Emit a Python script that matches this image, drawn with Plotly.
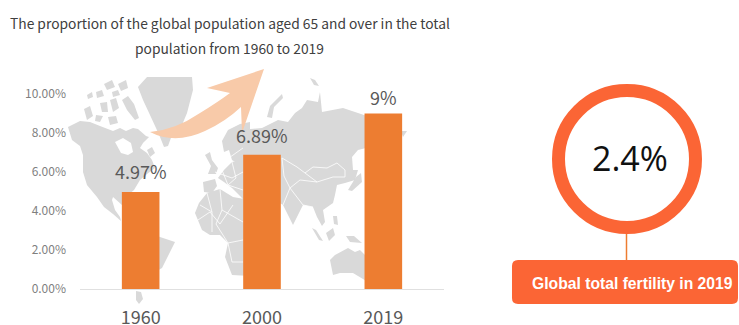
import plotly.graph_objects as go

W, H = 739, 325
years = ["1960", "2000", "2019"]
shares = [4.97, 6.89, 9.0]
share_labels = ["4.97%", "6.89%", "9%"]
y_ticks = [0, 2, 4, 6, 8, 10]
y_tick_labels = ["0.00%", "2.00%", "4.00%", "6.00%", "8.00%", "10.00%"]
title_lines = ["The proportion of the global population aged 65 and over in the total",
               "population from 1960 to 2019"]
fertility_value = "2.4%"
fertility_label = "Global total fertility in 2019"

# decorative backdrop outlines, in image pixels
LAND = [
 [(138,87),(147,77),(192,77),(193,90),(187,113),(182,125),(172,135),(168,146),(164,147),(160,137),(156,128),(150,115),(143,100)],
 [(68,127),(80,121),(90,122),(100,126),(113,131),(120,128),(126,131),(133,128),(138,129),(146,136),(149,137),(143,143),(140,148),(147,153),(152,160),(155,168),(147,174),(140,180),(134,190),(123,199),(122,205),(113,197),(112,200),(115,210),(120,217),(121,221),(113,214),(104,207),(97,197),(87,185),(83,172),(83,155),(80,146),(72,140)],
 [(122,100),(128,96),(134,104),(139,118),(135,120),(127,110)],
 [(110,100),(116,98),(119,108),(113,112)],
 [(100,103),(107,102),(108,112),(102,112)],
 [(84,109),(90,106),(93,116),(87,120)],
 [(96,115),(103,116),(100,122),(95,121)],
 [(108,117),(116,116),(118,123),(110,125)],
 [(118,84),(126,80),(128,88),(121,91)],
 [(104,84),(112,80),(115,87),(107,90)],
 [(96,92),(102,90),(104,96),(97,98)],
 [(112,92),(118,90),(120,95),(113,97)],
 [(87,95),(92,92),(93,97),(88,99)],
 [(147,150),(152,147),(155,153),(150,157)],
 [(222,141),(228,130),(240,124),(250,122),(250,160),(240,165),(232,160),(229,150),(224,152)],
 [(205,155),(210,152),(212,160),(218,168),(216,174),(208,174),(211,166)],
 [(218,178),(224,170),(232,162),(250,158),(250,205),(240,196),(232,188),(224,182)],
 [(203,182),(215,179),(217,186),(212,193),(204,192)],
 [(240,130),(262,128),(278,120),(288,122),(295,113),(302,108),(307,100),(318,102),(320,92),(322,112),(343,108),(355,112),(370,117),(370,147),(358,150),(352,157),(353,170),(358,170),(355,180),(345,183),(337,185),(335,195),(333,203),(323,210),(325,222),(322,226),(317,217),(313,207),(303,205),(293,225),(283,205),(275,200),(250,210),(240,195)],
 [(195,213),(199,203),(207,193),(220,189),(233,197),(250,200),(250,276),(232,275),(225,257),(228,243),(220,235),(210,235),(202,230)],
 [(155,235),(160,237),(175,242),(170,252),(162,268),(155,272)],
 [(136,291),(141,292),(143,299),(139,304),(136,300)],
 [(330,260),(335,255),(348,248),(355,252),(360,250),(368,258),(368,282),(353,273),(340,273),(333,275)],
 [(312,228),(316,230),(323,241),(319,240)],
 [(326,233),(333,228),(335,235),(329,241)],
 [(346,236),(354,236),(362,243),(350,242)],
 [(333,216),(337,216),(338,225),(334,224)],
 [(356,177),(361,173),(362,182),(352,191),(348,190)],
 [(267,117),(270,106),(282,94),(283,98),(274,107),(272,118)],
 [(310,78),(315,80),(319,86),(314,85)],
 [(401,131),(407,131),(403,137)],
]
ROADS = [
 [(282,158),(297,167),(305,173),(313,167),(327,168),(337,163),(345,170),(345,177),(333,177),(317,182),(305,173)],
 [(282,158),(284,176),(290,188),(303,205)],
 [(290,188),(300,180),(317,182)],
 [(195,222),(210,212),(220,224),(233,205)],
 [(207,193),(212,212),(212,232)],
 [(220,189),(222,210),(243,222)],
 [(222,210),(216,224),(228,243),(243,240)],
 [(228,243),(232,262),(243,262)],
 [(215,172),(232,178),(243,172)],
 [(226,160),(243,148)],
 [(222,170),(228,185),(243,190)],
 [(232,162),(236,178),(228,185)],
 [(303,205),(313,207)],
 [(283,205),(290,188)],
 [(200,205),(212,212)],
]

L, R, T, B = 80, 444, 94, 289

def px(x): return (x - L) / (R - L)
def py(y): return (B - y) / (B - T)

def poly(points):
    return "M" + " L".join(f"{px(x):.4f},{py(y):.4f}" for x, y in points) + " Z"

def line(points):
    return "M" + " L".join(f"{px(x):.4f},{py(y):.4f}" for x, y in points)

shapes = []
for p in LAND:
    shapes.append(dict(type="path", path=poly(p), xref="paper", yref="paper", layer="below",
                       fillcolor="#d9d9d9", line=dict(width=0)))
shapes.append(dict(type="path", path=poly([(115,142),(123,138),(131,143),(133,152),(128,155),(121,153)]),
                   xref="paper", yref="paper", layer="below", fillcolor="white", line=dict(width=0)))
for r in ROADS:
    shapes.append(dict(type="path", path=line(r), xref="paper", yref="paper", layer="below",
                       line=dict(color="white", width=0.8)))

P = lambda x, y: f"{px(x):.4f},{py(y):.4f}"
arrow = ("M" + P(150, 132) + " Q" + P(175, 130) + " " + P(200, 113) + " Q" + P(218, 102) + " " + P(230, 93)
         + " L" + P(207, 88) + " L" + P(264, 69) + " L" + P(242, 133) + " L" + P(241, 107)
         + " Q" + P(225, 122) + " " + P(205, 131) + " Q" + P(175, 145) + " " + P(150, 132) + " Z")
shapes.append(dict(type="path", path=arrow, xref="paper", yref="paper", fillcolor="#f8caa9", line=dict(width=0), layer="below"))

RING = "#fb6535"
shapes.append(dict(type="line", xref="paper", yref="paper", x0=px(626.5), x1=px(626.5), y0=py(232), y1=py(262),
                   line=dict(color="#ed7d31", width=1.5)))
shapes.append(dict(type="circle", xref="paper", yref="paper", x0=px(558.5), x1=px(695.5), y0=py(227.5), y1=py(90.5),
                   line=dict(color=RING, width=13), fillcolor="white"))
r = 6
rect = ("M" + P(512 + r, 260) + " L" + P(738 - r, 260) + " Q" + P(738, 260) + " " + P(738, 260 + r)
        + " L" + P(738, 304 - r) + " Q" + P(738, 304) + " " + P(738 - r, 304) + " L" + P(512 + r, 304)
        + " Q" + P(512, 304) + " " + P(512, 304 - r) + " L" + P(512, 260 + r) + " Q" + P(512, 260) + " " + P(512 + r, 260) + " Z")
shapes.append(dict(type="path", path=rect, xref="paper", yref="paper", fillcolor=RING, line=dict(width=0)))

CJK = "Noto Sans CJK SC"
def note(text, x, y, size, color, family=CJK):
    return dict(text=text, x=px(x), y=py(y), xref="paper", yref="paper", showarrow=False,
                xanchor="center", yanchor="middle", font=dict(size=size, color=color, family=family))

annotations = [
    note(title_lines[0], 229.5, 23, 13.8, "#404040"),
    note(title_lines[1], 229.5, 48, 13.8, "#404040"),
    note(fertility_value, 630, 158, 34, "#111111", "Open Sans"),
    note("<b>" + fertility_label + "</b>", 632.5, 283, 15.7, "white", "Liberation Sans"),
]
for i, (share, label, lift) in enumerate(zip(shares, share_labels, [21, 20, 17])):
    annotations.append(dict(text=label, x=i, y=share, xref="x", yref="y", showarrow=False,
                            xanchor="center", yanchor="middle", yshift=lift,
                            font=dict(size=18, color="#595959", family=CJK)))

fig = go.Figure(go.Bar(
    x=years, y=shares, width=0.31, marker=dict(color="#ed7d31", line=dict(width=0)),
))
fig.update_layout(
    width=W, height=H, autosize=False, showlegend=False,
    margin=dict(l=L, r=W - R, t=T, b=H - B),
    paper_bgcolor="white", plot_bgcolor="rgba(0,0,0,0)",
    shapes=shapes, annotations=annotations, font=dict(family=CJK),
    xaxis=dict(type="category", range=[-0.5, 2.5], showgrid=False, showline=True, linecolor="#e0e0e0", linewidth=1, ticks="",
               automargin=False, tickfont=dict(size=18, color="#595959", family=CJK), ticklabelstandoff=12),
    yaxis=dict(range=[0, 10], tickvals=y_ticks, ticktext=y_tick_labels, showgrid=False, zeroline=False,
               automargin=False, showline=False, ticks="", tickfont=dict(size=12, color="#7f7f7f", family=CJK), ticklabelstandoff=13),
)
fig.write_html("out.html", post_script="document.body.style.margin='0';", config=dict(displayModeBar=False))
